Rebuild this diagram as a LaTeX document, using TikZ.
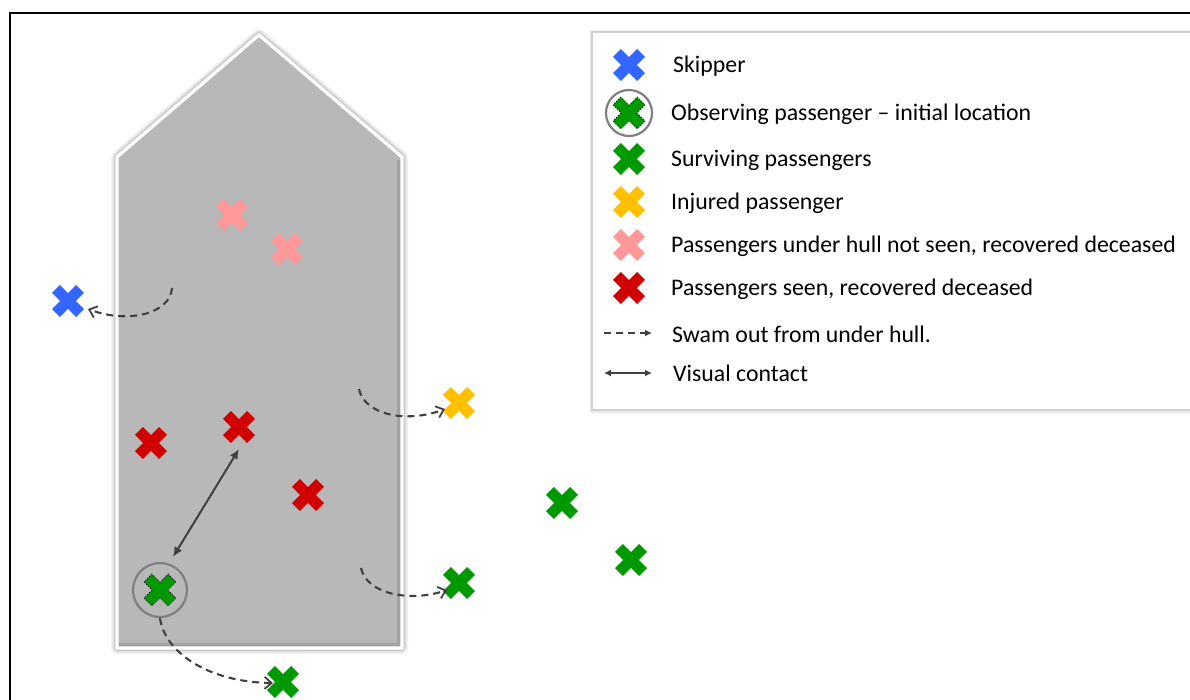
\documentclass[tikz,border=0pt]{standalone}
\usepackage{fontspec}
\setmainfont{Carlito}
\usetikzlibrary{arrows.meta,calc}
\definecolor{skipblue}{HTML}{3366FF}
\definecolor{survgreen}{HTML}{009900}
\definecolor{injyellow}{HTML}{FFC000}
\definecolor{hullpink}{HTML}{FF9999}
\definecolor{deadred}{HTML}{D00000}
\definecolor{hullgray}{HTML}{B8B8B8}
\definecolor{arrowgray}{HTML}{404040}
\definecolor{ringgray}{HTML}{7F7F7F}
\tikzset{
  xmark/.pic={
    \path[pic actions, rotate=45]
      (17,5.5) -- (5.5,5.5) -- (5.5,17) -- (-5.5,17) -- (-5.5,5.5) -- (-17,5.5)
      -- (-17,-5.5) -- (-5.5,-5.5) -- (-5.5,-17) -- (5.5,-17) -- (5.5,-5.5) -- (17,-5.5) -- cycle;
  },
  swam/.style={draw=arrowgray, line width=2.1pt, dash pattern=on 7pt off 5pt,
    -{Straight Barb[length=7pt,width=12pt,line width=1.8pt]}},
  contact/.style={draw=arrowgray, line width=2pt,
    {Latex[length=10pt,width=9pt]}-{Latex[length=10pt,width=9pt]}},
  ring/.style={draw=ringgray, line width=2.2pt},
  legtext/.style={anchor=west, inner sep=0pt, font=\fontsize{23.8}{28}\selectfont},
  observer/.style={fill=survgreen, draw=black, line width=0.9pt, dotted}
}
\begin{document}
\begin{tikzpicture}[x=1pt,y=-1pt]
\useasboundingbox (0,0) rectangle (1190,699);
% frame
\draw[line width=2.4pt, line cap=rect] (10,705) -- (10,13) -- (1200,13);
% hull
\def\hull{(259,35) -- (402,157) -- (402,648) -- (117,648) -- (117,157) -- cycle}
\foreach \w/\o in {12/0.05, 9/0.07, 6/0.1}{
  \draw[line width=\w pt, draw=black, opacity=\o, line join=round] \hull;
}
\fill[hullgray] \hull;
\begin{scope}
  \clip \hull;
  \draw[draw=black, opacity=0.12, line width=5pt] (399,160) -- (399,645) -- (118,645);
\end{scope}
\draw[white, line width=3.2pt, line join=miter] \hull;
% legend box
\draw[draw=black!8, line width=5pt] (592,32) rectangle (1200,410);
\draw[draw=black!18, line width=1.6pt, fill=white] (592,32) rectangle (1200,410);
% coordinates of scene marks
\coordinate (pinkA) at (232,215);
\coordinate (pinkB) at (287,249);
\coordinate (skip) at (68,301);
\coordinate (redA) at (151,443);
\coordinate (redB) at (239,427);
\coordinate (redC) at (308,495);
\coordinate (inj) at (459,403);
\coordinate (survA) at (562,503);
\coordinate (survB) at (631,560);
\coordinate (survC) at (459,583);
\coordinate (survD) at (283,682);
\coordinate (obs) at (160,590);
% marks
\pic[fill=hullpink] at (pinkA) {xmark};
\pic[fill=hullpink] at (pinkB) {xmark};
\pic[fill=skipblue] at (skip) {xmark};
\pic[fill=deadred] at (redA) {xmark};
\pic[fill=deadred] at (redB) {xmark};
\pic[fill=deadred] at (redC) {xmark};
\pic[fill=injyellow] at (inj) {xmark};
\pic[fill=survgreen] at (survA) {xmark};
\pic[fill=survgreen] at (survB) {xmark};
\pic[fill=survgreen] at (survC) {xmark};
\pic[fill=survgreen] at (survD) {xmark};
\pic[observer] at (obs) {xmark};
\node[ring, circle, minimum size=54pt, inner sep=0pt] (obsring) at (obs) {};
% swim-out paths
\coordinate (skipstart) at (172,288);
\coordinate (injstart) at (359,389);
\coordinate (survCstart) at (361,568);
\draw[swam] (skipstart) .. controls (170,314) and (128,324) .. ($(skip)+(20,8)$);
\draw[swam] (injstart) .. controls (364,414) and (405,424) .. ($(inj)+(-14,6)$);
\draw[swam] (survCstart) .. controls (366,593) and (408,603) .. ($(survC)+(-12,7)$);
\draw[swam] (obsring.south) .. controls (164,650) and (205,682) .. ($(survD)+(-10,1)$);
% visual contact
\draw[contact] ($(obs)+(13,-33)$) -- ($(redB)+(0,22)$);
% legend entries
\coordinate (lgA) at (629,65);
\coordinate (lgB) at (629,113);
\coordinate (lgC) at (629,159);
\coordinate (lgD) at (629,202);
\coordinate (lgE) at (629,245);
\coordinate (lgF) at (629,288);
\pic[fill=skipblue] at (lgA) {xmark};
\pic[observer] at (lgB) {xmark};
\node[ring, circle, minimum size=46pt, inner sep=0pt] (lgring) at (lgB) {};
\pic[fill=survgreen] at (lgC) {xmark};
\pic[fill=injyellow] at (lgD) {xmark};
\pic[fill=hullpink] at (lgE) {xmark};
\pic[fill=deadred] at (lgF) {xmark};
\coordinate (lgGa) at (604,333);
\coordinate (lgGb) at (652,333);
\coordinate (lgHa) at (604,373);
\coordinate (lgHb) at (652,373);
\draw[draw=arrowgray, line width=1.6pt, dash pattern=on 7pt off 5pt, -{Latex[length=7pt,width=7pt]}] (lgGa) -- (lgGb);
\draw[draw=arrowgray, line width=1.6pt, {Latex[length=7pt,width=7pt]}-{Latex[length=7pt,width=7pt]}] (lgHa) -- (lgHb);
\node[legtext] (tA) at (673,66) {Skipper};
\node[legtext] (tB) at (671,114) {Observing passenger – initial location};
\node[legtext] (tC) at (671,160) {Surviving passengers};
\node[legtext] (tD) at (671,203) {Injured passenger};
\node[legtext] (tE) at (671,246) {Passengers under hull not seen, recovered deceased};
\node[legtext] (tF) at (671,289) {Passengers seen, recovered deceased};
\node[legtext] (tG) at (672,334) {Swam out from under hull.};
\node[legtext] (tH) at (673,373) {Visual contact};
\end{tikzpicture}
\end{document}
